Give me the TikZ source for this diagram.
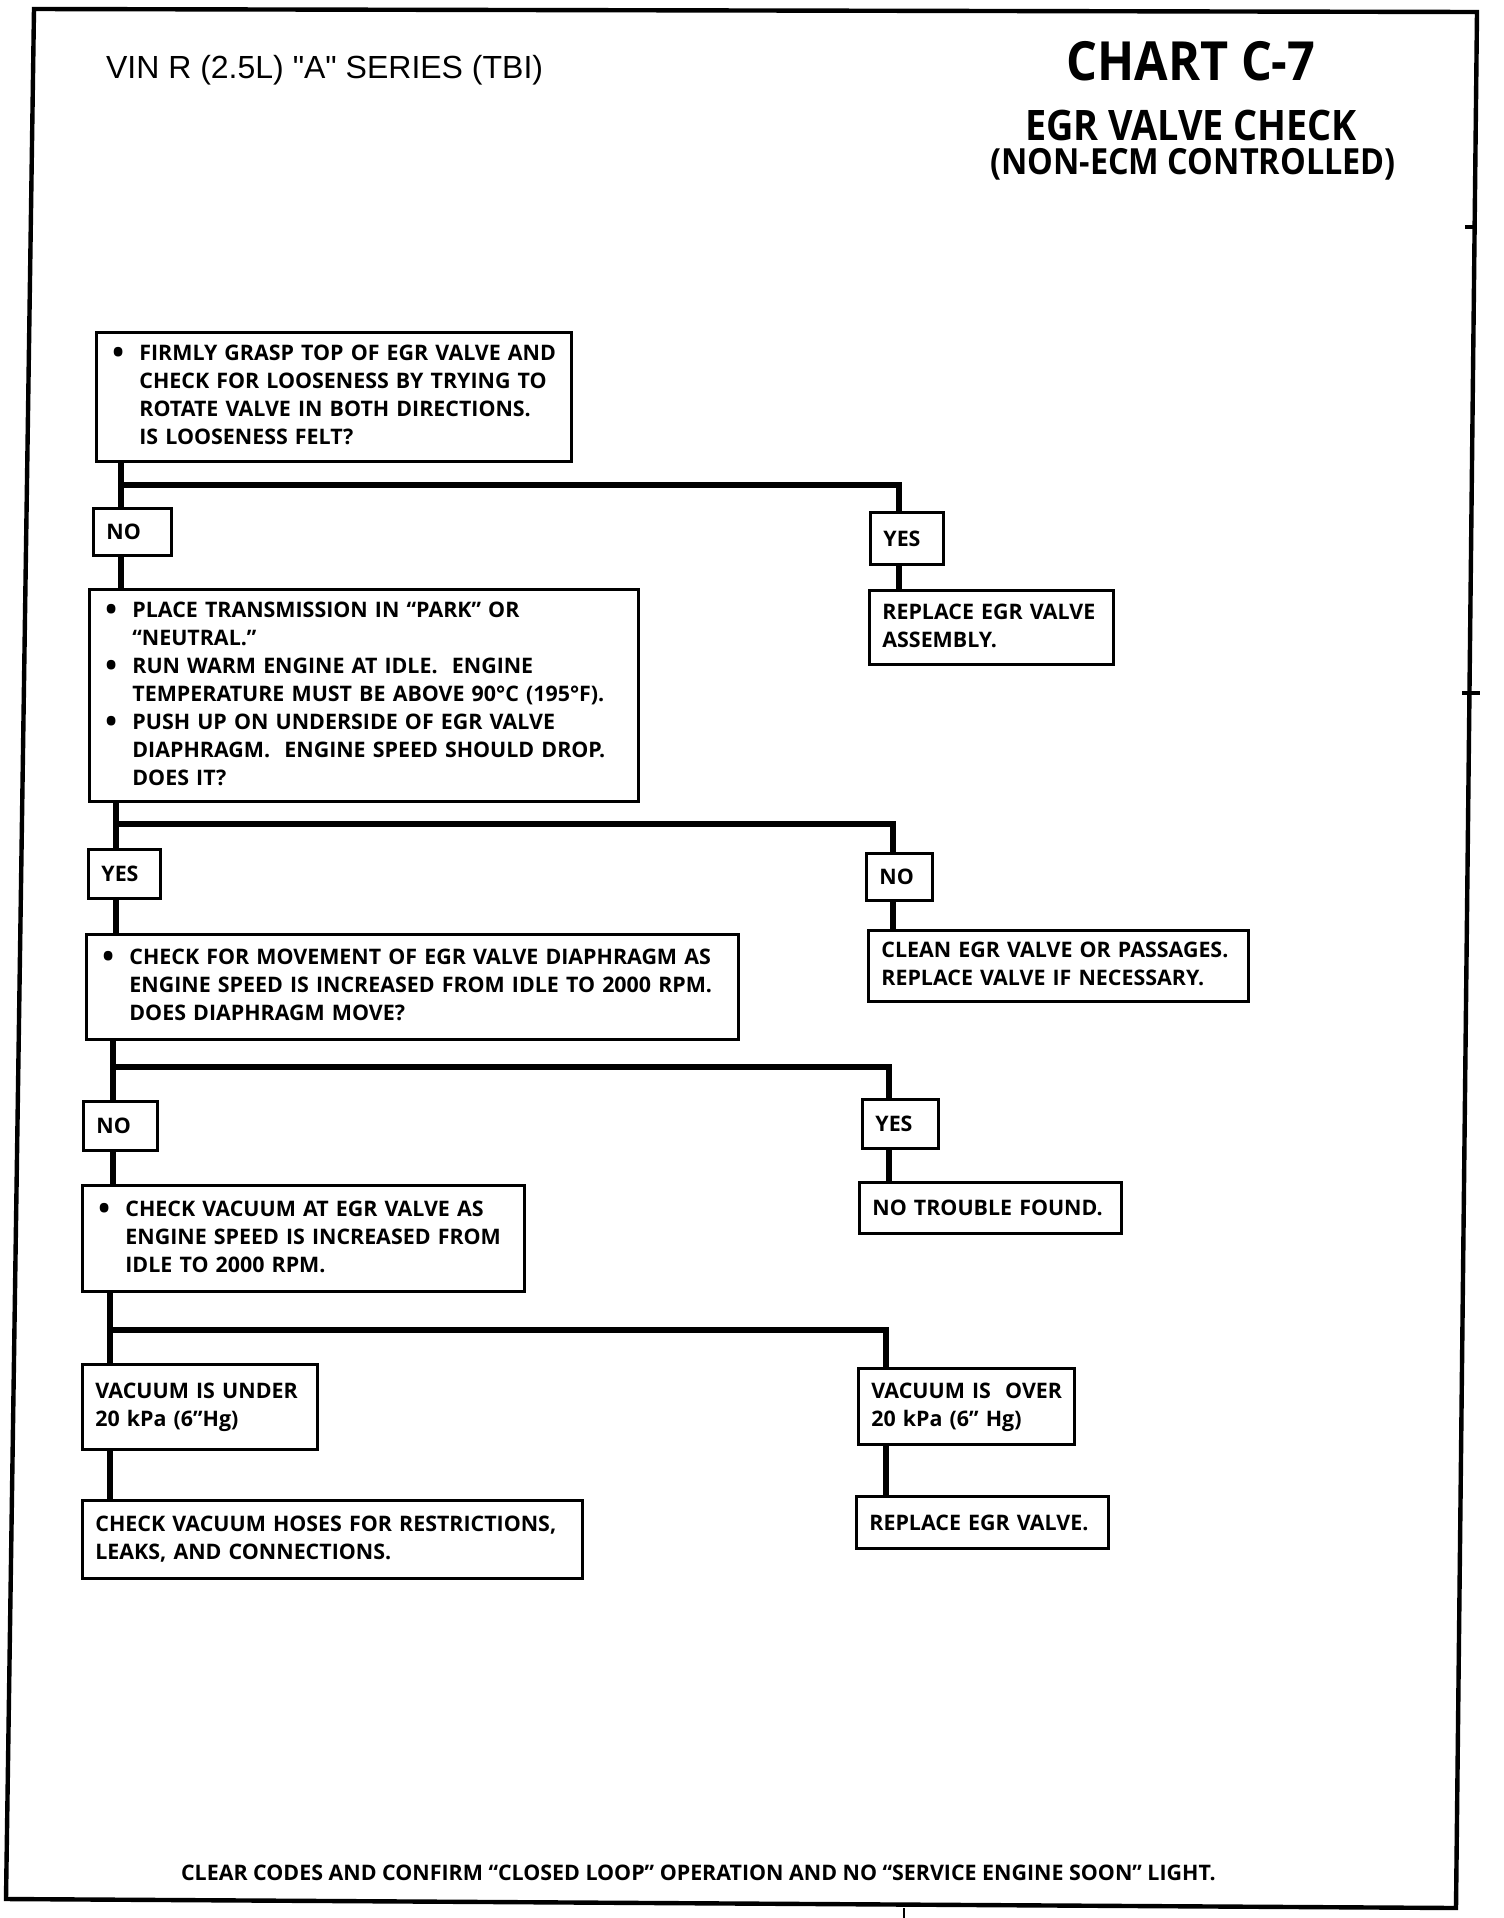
\documentclass[tikz,border=0pt]{standalone}
\usepackage{fontspec}
\setmainfont{Open Sans}
\newfontfamily\vinfont{Liberation Sans}
\newfontfamily\headfont{Open Sans}[FakeStretch=0.9]
\newcommand\boxfont{\bfseries\fontsize{10.7}{14}\selectfont}
\newcommand\bigdot{\raisebox{-1.6pt}{\fontsize{15.5}{14}\selectfont\textbullet}}
\newcommand\rows[1]{\begin{tabular}{@{}l@{}}#1\end{tabular}}
\newcommand\bullets[1]{\begin{tabular}{@{\hspace{1.5pt}}p{13.5pt}@{}l@{}}#1\end{tabular}}
\begin{document}
\begin{tikzpicture}[x=0.5pt, y=-0.5pt,
        qbox/.style={draw, line width=1.4pt, fill=white, anchor=north west,
            inner xsep=6.5pt, inner ysep=0pt, align=left, font=\boxfont},
        conn/.style={line width=3.3pt},
        frame/.style={line width=2.2pt}]
        \useasboundingbox (0,0) rectangle (1504,1918);
        \draw[frame] (34,9) -- (1477,12) -- (1456,1908) -- (6,1899) -- cycle;
        \draw[frame] (1465,227) -- (1475,227);
        \draw[frame] (1462,693) -- (1480,693);
        \draw[line width=1pt] (904,1908) -- (904,1918);

        % headings
        \node[anchor=base west, font={\vinfont\fontsize{16}{18}\selectfont}] (vin) at (99,78) {VIN R (2.5L) "A" SERIES (TBI)};
        \node[anchor=base, font={\headfont\bfseries\fontsize{27}{30}\selectfont}] (chart) at (1191,80) {CHART C-7};
        \node[anchor=base, font={\headfont\bfseries\fontsize{21}{24}\selectfont}] (title) at (1191,140) {EGR VALVE CHECK};
        \node[anchor=base, font={\headfont\bfseries\fontsize{18}{20}\selectfont}] (subtitle) at (1193,174) {(NON-ECM CONTROLLED)};

        % left column
        \node[qbox, text width=224.5pt, minimum height=64.5pt] (q1) at (95,331) {\bullets{\bigdot & FIRMLY GRASP TOP OF EGR VALVE AND\\
            & CHECK FOR LOOSENESS BY TRYING TO\\ & ROTATE VALVE IN BOTH DIRECTIONS.\\ & IS LOOSENESS FELT?}};
        \node[qbox, text width=26pt, minimum height=23.5pt] (no1) at (92,507) {NO};
        \node[qbox, text width=261.5pt, minimum height=106pt] (q2) at (88,588) {\bullets{\bigdot & PLACE TRANSMISSION IN “PARK” OR\\
            & “NEUTRAL.”\\ \bigdot & RUN WARM ENGINE AT IDLE.\ \ ENGINE\\ & TEMPERATURE MUST BE ABOVE 90°C (195°F).\\
            \bigdot & PUSH UP ON UNDERSIDE OF EGR VALVE\\ & DIAPHRAGM.\ \ ENGINE SPEED SHOULD DROP.\\ & DOES IT?}};
        \node[qbox, text width=23pt, minimum height=24.5pt] (yes2) at (87,848) {YES};
        \node[qbox, text width=313pt, minimum height=52.5pt] (q3) at (85,933) {\bullets{\bigdot & CHECK FOR MOVEMENT OF EGR VALVE DIAPHRAGM AS\\
            & ENGINE SPEED IS INCREASED FROM IDLE TO 2000 RPM.\\ & DOES DIAPHRAGM MOVE?}};
        \node[qbox, text width=24pt, minimum height=24.5pt] (no3) at (82,1100) {NO};
        \node[qbox, text width=208pt, minimum height=53pt] (q4) at (81,1184) {\bullets{\bigdot & CHECK VACUUM AT EGR VALVE AS\\
            & ENGINE SPEED IS INCREASED FROM\\ & IDLE TO 2000 RPM.}};
        \node[qbox, text width=104.5pt, minimum height=42.5pt] (vun) at (81,1363) {\rows{VACUUM\hspace{3.6pt}IS\hspace{3.6pt}UNDER\\ 20 kPa (6”Hg)}};
        \node[qbox, text width=237pt, minimum height=39pt] (hos) at (81,1499) {\rows{CHECK VACUUM HOSES FOR RESTRICTIONS,\\ LEAKS, AND CONNECTIONS.}};

        % right column
        \node[qbox, text width=23.5pt, minimum height=26pt] (yes1) at (869,511) {YES};
        \node[qbox, text width=109pt, minimum height=37pt] (rep1) at (868,589) {\rows{REPLACE EGR VALVE\\ ASSEMBLY.}};
        \node[qbox, text width=20pt, minimum height=23.5pt] (no2) at (865,852) {NO};
        \node[qbox, text width=177pt, minimum height=35.5pt] (cln) at (867,929) {\rows{CLEAN EGR VALVE OR PASSAGES.\\ REPLACE VALVE IF NECESSARY.}};
        \node[qbox, text width=25pt, minimum height=24.5pt] (yes3) at (861,1098) {YES};
        \node[qbox, text width=118pt, minimum height=25.5pt] (ntf) at (858,1181) {NO TROUBLE FOUND.};
        \node[qbox, text width=95pt, minimum height=38pt] (vov) at (857,1367) {\rows{VACUUM IS\ \ OVER\\ 20 kPa (6” Hg)}};
        \node[qbox, text width=113pt, minimum height=26pt] (rep2) at (855,1495) {REPLACE EGR VALVE.};

        % trunk and branch points
        \coordinate (t1) at (121,485);
        \coordinate (r1) at (899,485);
        \coordinate (t2) at (116,824);
        \coordinate (r2) at (893,824);
        \coordinate (t3) at (113,1067);
        \coordinate (r3) at (889,1067);
        \coordinate (t4) at (110,1330);
        \coordinate (r4) at (886,1330);

        \draw[conn] (q1.south -| t1) -- (no1.north -| t1);
        \draw[conn] (no1.south -| t1) -- (q2.north -| t1);
        \draw[conn] (t1) -- (r1) -- (yes1.north -| r1);
        \draw[conn] (yes1.south -| r1) -- (rep1.north -| r1);

        \draw[conn] (q2.south -| t2) -- (yes2.north -| t2);
        \draw[conn] (yes2.south -| t2) -- (q3.north -| t2);
        \draw[conn] (t2) -- (r2) -- (no2.north -| r2);
        \draw[conn] (no2.south -| r2) -- (cln.north -| r2);

        \draw[conn] (q3.south -| t3) -- (no3.north -| t3);
        \draw[conn] (no3.south -| t3) -- (q4.north -| t3);
        \draw[conn] (t3) -- (r3) -- (yes3.north -| r3);
        \draw[conn] (yes3.south -| r3) -- (ntf.north -| r3);

        \draw[conn] (q4.south -| t4) -- (vun.north -| t4);
        \draw[conn] (vun.south -| t4) -- (hos.north -| t4);
        \draw[conn] (t4) -- (r4) -- (vov.north -| r4);
        \draw[conn] (vov.south -| r4) -- (rep2.north -| r4);

        % closing note
        \node[anchor=base west, font=\boxfont] (note) at (174,1880) {CLEAR CODES AND CONFIRM “CLOSED LOOP” OPERATION AND NO “SERVICE ENGINE SOON” LIGHT.};
    \end{tikzpicture}
\end{document}
